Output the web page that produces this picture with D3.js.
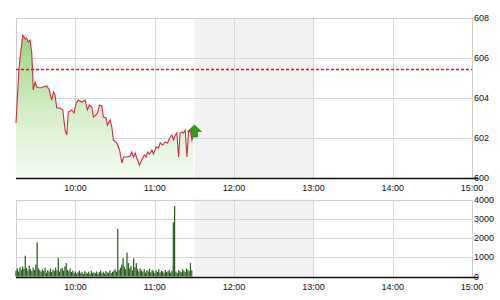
<!DOCTYPE html>
<html>
<head>
<meta charset="utf-8">
<script src="https://cdn.jsdelivr.net/npm/d3@7"></script>
<style>
    html, body { margin: 0; padding: 0; background: #fff; }
    svg { display: block; }
    .tick-label { font-family: 'Liberation Sans', Arial, sans-serif; font-size: 9px; fill: #111; }
</style>
</head>
<body>
<div id="chart"></div>
<script>
// Session bounds and lunch break
const sessionStart = '09:15:00';
const sessionEnd = '15:00:00';
const breakStart = '11:30:00';
const breakEnd = '13:00:00';

// Price ticks
const priceTimes = [
    '09:15:00', '09:17:20', '09:20:05', '09:21:50', '09:23:05', '09:24:20', '09:25:35', '09:26:55',
    '09:28:05', '09:29:25', '09:30:40', '09:33:10', '09:35:40', '09:38:20', '09:40:10', '09:42:00',
    '09:43:20', '09:44:30', '09:45:50', '09:48:20', '09:50:25', '09:52:05', '09:53:25', '09:54:35',
    '09:57:10', '09:58:55', '10:00:30', '10:02:10', '10:04:50', '10:07:20', '10:09:00', '10:10:30',
    '10:12:20', '10:13:35', '10:15:35', '10:16:55', '10:18:05', '10:19:55', '10:21:05', '10:23:10',
    '10:24:10', '10:26:10', '10:27:30', '10:28:40', '10:31:20', '10:33:20', '10:35:05', '10:36:20',
    '10:38:55', '10:41:25', '10:42:35', '10:43:55', '10:45:10', '10:46:25', '10:48:25', '10:50:10',
    '10:52:00', '10:53:30', '10:54:30', '10:56:00', '10:57:50', '10:59:00', '11:01:05', '11:02:50',
    '11:04:05', '11:06:05', '11:07:55', '11:09:35', '11:11:40', '11:12:55', '11:14:10', '11:15:30',
    '11:16:40', '11:18:00', '11:19:10', '11:20:30', '11:21:40', '11:23:00', '11:24:20', '11:25:30',
    '11:26:50', '11:28:05', '11:28:55'
];
const priceValues = [
    602.75, 605.55, 607.15, 606.95, 607.00, 606.80, 606.90, 606.25,
    604.40, 604.80, 604.55, 604.50, 604.55, 604.60, 604.40, 603.90,
    604.30, 604.15, 603.50, 603.50, 603.40, 602.40, 602.15, 603.30,
    603.40, 603.25, 603.75, 603.90, 603.80, 603.90, 603.40, 603.65,
    603.55, 603.05, 603.15, 603.30, 603.65, 603.60, 603.05, 603.00,
    602.65, 602.90, 602.55, 601.90, 601.75, 601.40, 600.75, 601.05,
    601.05, 601.10, 601.30, 601.05, 601.25, 601.00, 600.65, 600.90,
    601.15, 601.05, 601.30, 601.20, 601.40, 601.20, 601.55, 601.50,
    601.75, 601.65, 601.80, 601.75, 602.05, 602.15, 601.90, 602.15,
    602.25, 601.05, 602.25, 602.30, 602.25, 602.40, 601.05, 602.30,
    602.40, 601.90, 602.05
];
const referencePrice = 605.43;

// Volume per minute, starting at the open
const volumeStart = '09:15:00';
const volumeValues = [
    300, 420, 260, 480, 350, 520, 390, 1080, 450, 310,
    560, 380, 290, 470, 340, 610, 1775, 420, 330, 250,
    380, 290, 450, 200, 320, 260, 410, 230, 350, 280,
    470, 310, 980, 260, 390, 450, 300, 520, 700, 340,
    280, 410, 230, 300, 180, 260, 150, 220, 310, 170,
    240, 130, 280, 200, 160, 250, 140, 300, 190, 220,
    170, 260, 140, 230, 310, 180, 250, 150, 280, 210,
    190, 320, 170, 240, 300, 380, 260, 2470, 340, 450,
    620, 950, 510, 380, 1240, 700, 420, 560, 330, 950,
    480, 690, 380, 260, 420, 310, 250, 380, 200, 330,
    270, 410, 220, 350, 290, 180, 320, 240, 380, 210,
    300, 260, 190, 340, 230, 280, 360, 200, 310, 2815,
    3660, 250, 180, 330, 270, 220, 380, 300, 240, 410,
    350, 280, 690, 320
];

// Axis ticks
const timeTicks = ['10:00:00', '11:00:00', '12:00:00', '13:00:00', '14:00:00', '15:00:00'];
const priceTicks = [600, 602, 604, 606, 608];
const volumeTicks = [0, 1000, 2000, 3000, 4000];

const parseTime = d3.timeParse('%H:%M:%S');
const fmtTick = d3.timeFormat('%H:%M');

const width = 500, height = 300;
const plot = { left: 16, right: 472 };
const top1 = { top: 18, bottom: 178 };
const top2 = { top: 199.5, bottom: 276.5 };

const svg = d3.select('#chart').append('svg')
    .attr('width', width)
    .attr('height', height);

const x = d3.scaleTime()
    .domain([parseTime(sessionStart), parseTime(sessionEnd)])
    .range([plot.left, plot.right]);

const yPrice = d3.scaleLinear()
    .domain([600, 608])
    .range([top1.bottom, top1.top]);

const yVol = d3.scaleLinear()
    .domain([0, 4000])
    .range([top2.bottom, top2.top]);

const prices = priceTimes.map((t, i) => ({ time: parseTime(t), value: priceValues[i] }));
const vStart = parseTime(volumeStart);
const volumes = volumeValues.map((v, i) => ({ time: d3.timeMinute.offset(vStart, i), value: v }));

// Gradient for the price area
const defs = svg.append('defs');
const grad = defs.append('linearGradient')
    .attr('id', 'areaGrad')
    .attr('gradientUnits', 'userSpaceOnUse')
    .attr('x1', 0).attr('x2', 0)
    .attr('y1', yPrice(607.2)).attr('y2', yPrice(600));
grad.append('stop').attr('offset', '0%').attr('stop-color', '#98d47c');
grad.append('stop').attr('offset', '55%').attr('stop-color', '#d6eecb');
grad.append('stop').attr('offset', '100%').attr('stop-color', '#f5fbf2');

// Draw panel frame, shading and gridlines
function drawPanel(y, box, ticks) {
    const g = svg.append('g');

    g.append('rect')
        .attr('x', x(parseTime(breakStart)))
        .attr('y', box.top)
        .attr('width', x(parseTime(breakEnd)) - x(parseTime(breakStart)))
        .attr('height', box.bottom - box.top)
        .attr('fill', '#f2f2f2');

    g.selectAll('.vgrid')
        .data(timeTicks.slice(0, -1))
        .enter()
        .append('line')
        .attr('x1', d => Math.round(x(parseTime(d))) + 0.5)
        .attr('x2', d => Math.round(x(parseTime(d))) + 0.5)
        .attr('y1', box.top)
        .attr('y2', box.bottom)
        .attr('stroke', '#d6d6d6');

    g.selectAll('.hgrid')
        .data(ticks.slice(1, -1))
        .enter()
        .append('line')
        .attr('x1', plot.left)
        .attr('x2', plot.right)
        .attr('y1', d => Math.round(y(d)) + 0.5)
        .attr('y2', d => Math.round(y(d)) + 0.5)
        .attr('stroke', '#d6d6d6');

    g.append('rect')
        .attr('x', plot.left + 0.5)
        .attr('y', Math.round(box.top) + 0.5)
        .attr('width', plot.right - plot.left)
        .attr('height', box.bottom - box.top)
        .attr('fill', 'none')
        .attr('stroke', '#cfcfcf');

    return g;
}

function drawAxes(y, box, ticks, labelY) {
    // Black baseline
    svg.append('line')
        .attr('x1', plot.left)
        .attr('x2', plot.right + 6)
        .attr('y1', Math.round(box.bottom) + 0.5)
        .attr('y2', Math.round(box.bottom) + 0.5)
        .attr('stroke', '#111')
        .attr('stroke-width', 1.6);

    svg.selectAll(null)
        .data(ticks)
        .enter()
        .append('text')
        .attr('class', 'tick-label')
        .attr('x', plot.right + 2)
        .attr('y', d => y(d))
        .attr('dy', '0.35em')
        .text(d => d);

    svg.selectAll(null)
        .data(timeTicks)
        .enter()
        .append('text')
        .attr('class', 'tick-label')
        .attr('x', d => x(parseTime(d)))
        .attr('y', labelY)
        .attr('text-anchor', 'middle')
        .text(d => fmtTick(parseTime(d)));
}

// Price panel
drawPanel(yPrice, top1, priceTicks);

const area = d3.area()
    .x(d => x(d.time))
    .y0(yPrice(600))
    .y1(d => yPrice(d.value));

const line = d3.line()
    .x(d => x(d.time))
    .y(d => yPrice(d.value));

svg.append('path')
    .datum(prices)
    .attr('d', area)
    .attr('fill', 'url(#areaGrad)');

// Reference (previous close) line
svg.append('line')
    .attr('x1', plot.left)
    .attr('x2', plot.right)
    .attr('y1', yPrice(referencePrice))
    .attr('y2', yPrice(referencePrice))
    .attr('stroke', '#e8101a')
    .attr('stroke-width', 1.5)
    .attr('stroke-dasharray', '3,2');

svg.append('path')
    .datum(prices)
    .attr('d', line)
    .attr('fill', 'none')
    .attr('stroke', '#cc2e44')
    .attr('stroke-width', 1.1);

// Up arrow on last price
const last = prices[prices.length - 1];
const ax = x(last.time) + 1.5, ay = yPrice(last.value);
svg.append('path')
    .attr('d', `M${ax},${ay - 12} L${ax + 7},${ay - 5.5} L${ax + 3},${ay - 5.5} L${ax + 3},${ay} L${ax - 3},${ay} L${ax - 3},${ay - 5.5} L${ax - 7},${ay - 5.5} Z`)
    .attr('fill', '#2f9a1c')
    .attr('stroke', '#1d6e10')
    .attr('stroke-width', 0.6);

drawAxes(yPrice, top1, priceTicks, 191);

// Volume panel
drawPanel(yVol, top2, volumeTicks);

svg.append('g')
    .selectAll('rect')
    .data(volumes)
    .enter()
    .append('rect')
    .attr('x', d => x(d.time) - 0.6)
    .attr('y', d => yVol(d.value))
    .attr('width', 1.2)
    .attr('height', d => yVol(0) - yVol(d.value))
    .attr('fill', '#275c19');

drawAxes(yVol, top2, volumeTicks, 290);
</script>
</body>
</html>
